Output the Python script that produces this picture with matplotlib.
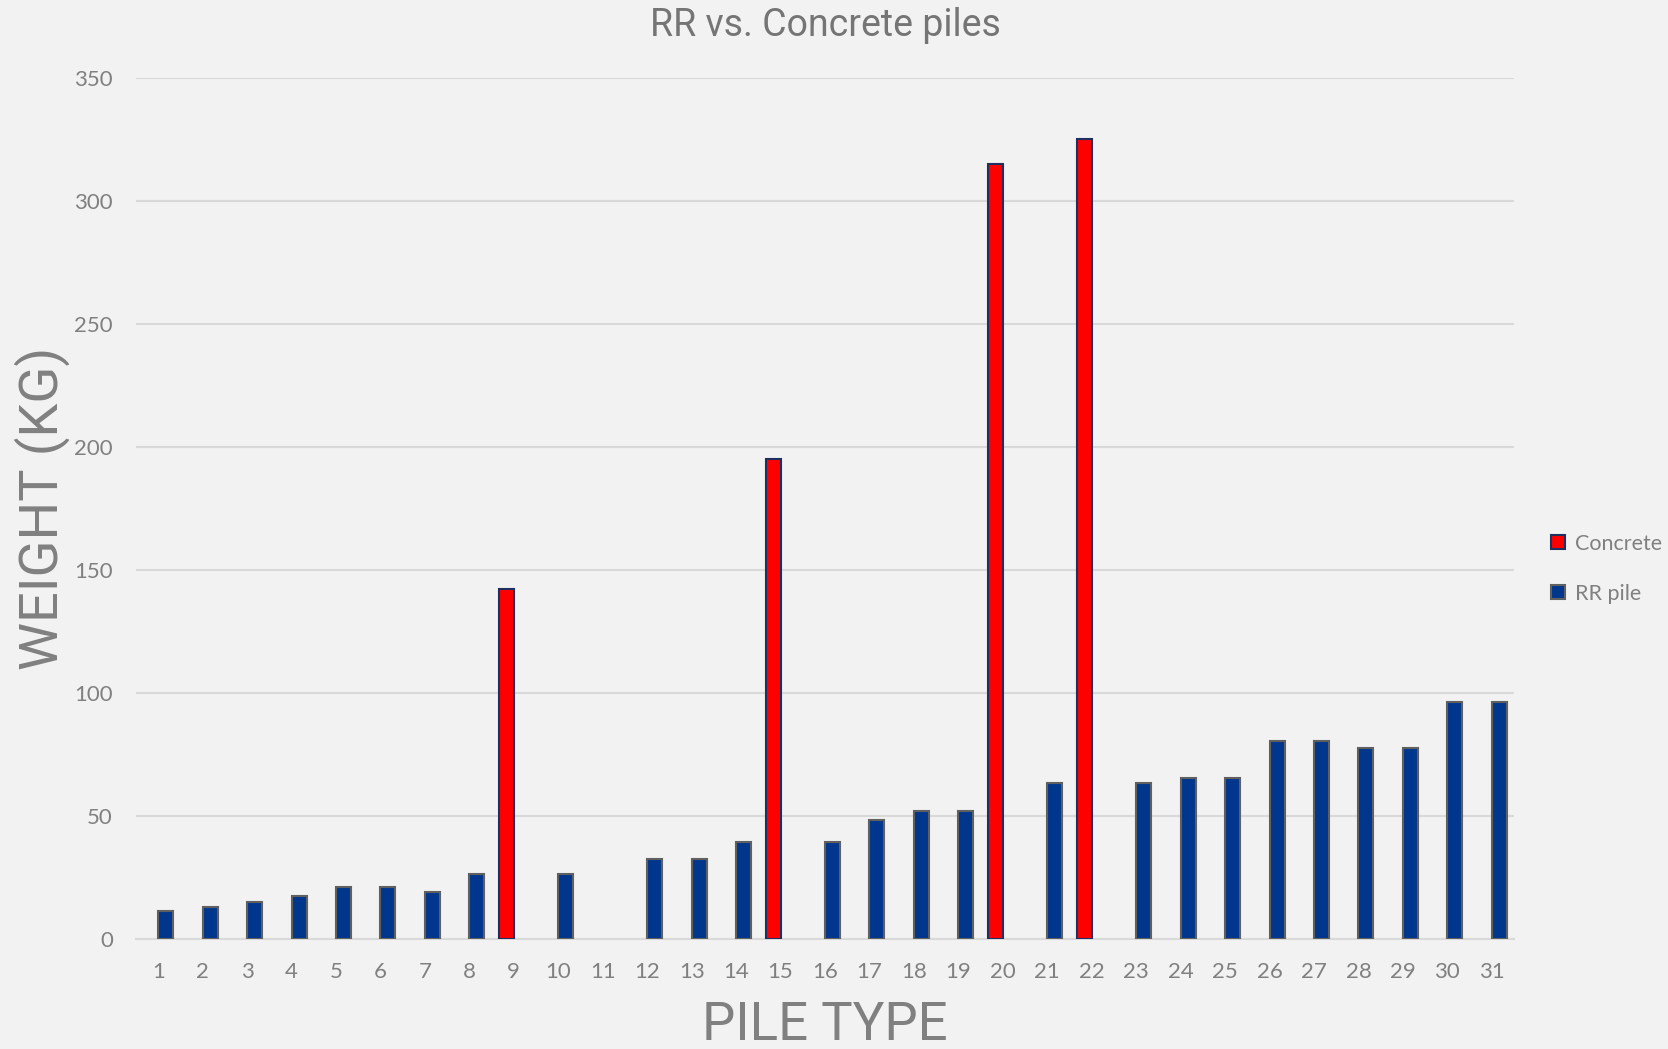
import numpy as np
import matplotlib
matplotlib.use('Agg')
from matplotlib import pyplot as plt
from matplotlib import font_manager

# pile weights (kg) per pile type, None where that pile has no value
pile_types = [str(i) for i in range(1, 32)]
rr_pile = [11.2, 13, 15.1, 17.3, 21.2, 21.2, 19, 26.4, None, 26.4,
           None, 32.4, 32.4, 39.3, None, 39.3, 48.4, 51.9, 51.9, None,
           63.5, None, 63.5, 65.3, 65.3, 80.4, 80.4, 77.8, 77.8, 96.4, 96.4]
concrete = [None]*8 + [142.2] + [None]*5 + [195] + [None]*4 + [315] + [None] + [325.4] + [None]*9
y_ticks = [0, 50, 100, 150, 200, 250, 300, 350]

installed = set(f.name for f in font_manager.fontManager.ttflist)
narrow = 'Liberation Sans Narrow' if 'Liberation Sans Narrow' in installed else 'Roboto'

bg = '#f2f2f2'
txt = '#808080'

fig = plt.figure(figsize=(16.68, 10.49), dpi=100, facecolor=bg)
ax = fig.add_axes([0.0815, 0.105, 0.8262, 0.8206], facecolor=bg)

x = np.arange(1, len(pile_types) + 1)
w = 0.337
conc = np.array([np.nan if v is None else v for v in concrete], dtype=float)
rr = np.array([np.nan if v is None else v for v in rr_pile], dtype=float)
ax.bar(x - w/2, conc, w, color='#ff0000', edgecolor='#1f3060', linewidth=1.5, label='Concrete', zorder=3)
ax.bar(x + w/2, rr, w, color='#00378c', edgecolor='#606060', linewidth=1.5, label='RR pile', zorder=3)

ax.set_xlim(0.5, 31.5)
ax.set_ylim(0, 350)
ax.set_yticks(y_ticks)
ax.set_xticks(x)
ax.set_xticklabels(pile_types)
ax.grid(axis='y', color='#d9d9d9', linewidth=1.5, zorder=0)
for s in ['top', 'right', 'left']:
    ax.spines[s].set_visible(False)
ax.spines['bottom'].set_color('#d9d9d9')
ax.spines['bottom'].set_linewidth(1.5)
ax.tick_params(axis='both', length=0, colors=txt, labelsize=16)
ax.tick_params(axis='y', pad=16.5)
ax.tick_params(axis='x', pad=17)
for lbl in ax.get_xticklabels() + ax.get_yticklabels():
    lbl.set_fontfamily('Lato')

ax.set_title('RR vs. Concrete piles', fontsize=27, color='#757575', family=narrow, y=1.0395)
ax.set_xlabel('PILE TYPE', fontsize=38, color=txt, family=narrow)
ax.set_ylabel('WEIGHT (KG)', fontsize=39, color=txt, family=narrow)
ax.xaxis.set_label_coords(0.5, -0.071)
ax.yaxis.set_label_coords(-0.048, 0.5)

leg = ax.legend(loc='center left', bbox_to_anchor=(1.013, 0.43), frameon=False,
                prop={'family': 'Lato', 'size': 15.5}, handlelength=0.65, handleheight=0.65,
                handletextpad=0.45, labelspacing=1.4, labelcolor=txt)

fig.savefig('out.png', dpi=100, facecolor=bg)
